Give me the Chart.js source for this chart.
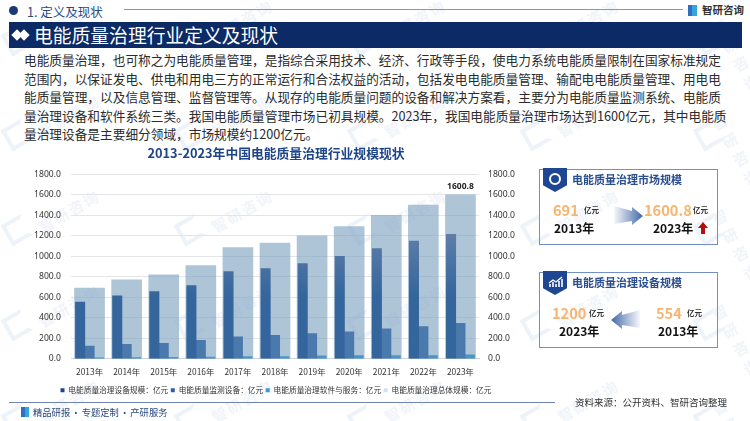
<!DOCTYPE html>
<html lang="zh">
<head>
<meta charset="utf-8">
<script src="https://cdn.jsdelivr.net/npm/chart.js@4/dist/chart.umd.min.js"></script>
<style>
html, body { margin: 0; padding: 0; background: #fff; }
body { width: 750px; height: 421px; position: relative; overflow: hidden; font-family: "Noto Sans CJK SC", "Noto Sans", sans-serif; }
.abs { position: absolute; white-space: nowrap; }
#wm { position: absolute; left: 0; top: 0; width: 750px; height: 421px; }
#wm span { position: absolute; font-size: 15px; font-weight: 700; color: #f1f4f9; transform: rotate(-30deg); letter-spacing: 2px; }
#wm i { position: absolute; width: 16px; height: 16px; border: 4px solid #eef3f9; border-right-color: transparent; transform: rotate(-30deg); }
#chartBox { position: absolute; left: 0; top: 140px; width: 552px; height: 264px; }
.para { left: 24px; font-size: 12.68px; line-height: 18px; color: #2b2b2b; }
.panel { position: absolute; left: 539px; width: 177px; height: 74px; border: 1px solid #7390c4; box-sizing: content-box; }
.badge { position: absolute; left: 543px; width: 24px; height: 24px; background: #1f4690; clip-path: polygon(0 0, 100% 0, 100% 72%, 50% 100%, 0 72%); }
.ptitle { font-size: 11px; font-weight: 700; color: #2a4f8f; }
.num { font-size: 14.6px; font-weight: 700; color: #f7b56f; }
.unit { font-size: 7.5px; font-weight: 700; color: #333; }
.yr { font-size: 12px; font-weight: 700; color: #111; }
</style>
</head>
<body>
<div id="wm"></div>

<div class="abs" style="left:9px;top:6px;width:9px;height:9px;border-radius:50%;background:#183a7a"></div>
<div class="abs" style="left:27px;top:2px;font-size:12.5px;color:#2a4a7f">1. 定义及现状</div>
<div class="abs" style="left:124px;top:9px;width:559px;height:1px;background:#8296bd"></div>
<div class="abs" style="left:688px;top:5px;width:9px;height:11px;background:linear-gradient(90deg,#2f6fc0 50%,#35a6d8 50%)"></div>
<div class="abs" style="left:702px;top:2px;font-size:10.5px;font-weight:700;color:#333">智研咨询</div>
<div class="abs" style="left:9px;top:22px;width:733px;height:26px;background:#0c2a66"></div>
<div class="abs" style="left:13px;top:31px;width:8px;height:8px;background:#fff;transform:rotate(45deg)"></div>
<div class="abs" style="left:20px;top:31px;width:8px;height:8px;background:#fff;transform:rotate(45deg)"></div>
<div class="abs" style="left:34px;top:21px;font-size:18.8px;line-height:27px;color:#fff">电能质量治理行业定义及现状</div>

<div class="abs para" style="top:51px">电能质量治理，也可称之为电能质量管理，是指综合采用技术、经济、行政等手段，使电力系统电能质量限制在国家标准规定</div>
<div class="abs para" style="top:70px">范围内，以保证发电、供电和用电三方的正常运行和合法权益的活动，包括发电电能质量管理、输配电电能质量管理、用电电</div>
<div class="abs para" style="top:88px">能质量管理，以及信息管理、监督管理等。从现存的电能质量问题的设备和解决方案看，主要分为电能质量监测系统、电能质</div>
<div class="abs para" style="top:107px">量治理设备和软件系统三类。我国电能质量管理市场已初具规模。2023年，我国电能质量治理市场达到1600亿元，其中电能质</div>
<div class="abs para" style="top:125px">量治理设备是主要细分领域，市场规模约1200亿元。</div>

<div id="chartBox"><canvas id="chart"></canvas></div>

<div class="panel" style="top:169px"></div>
<div class="badge" style="top:168px"></div>
<div class="abs" style="left:549px;top:173px;width:8px;height:8px;border:2px solid #fff;border-radius:50%"></div>
<div class="abs ptitle" style="left:572px;top:171px">电能质量治理市场规模</div>
<div class="abs num" style="left:553px;top:199px">691</div>
<div class="abs unit" style="left:584px;top:204px">亿元</div>
<div class="abs yr" style="left:554px;top:219px">2013年</div>
<svg class="abs" style="left:614px;top:205px" width="30" height="22" viewBox="0 0 30 22">
  <defs><linearGradient id="g1" x1="0" x2="1" y1="0" y2="0"><stop offset="0" stop-color="#4a6fa8" stop-opacity="0.05"/><stop offset="1" stop-color="#3f66a5"/></linearGradient></defs>
  <path d="M0 1 L18 6 L18 2 L29 11 L18 20 L18 16 L0 19 Z" fill="url(#g1)"/>
</svg>
<div class="abs num" style="left:644px;top:199px">1600.8</div>
<div class="abs unit" style="left:693px;top:204px">亿元</div>
<div class="abs yr" style="left:653px;top:219px">2023年</div>
<svg class="abs" style="left:698px;top:222px" width="10" height="12" viewBox="0 0 10 12"><path d="M5 0 L10 6 L7 6 L7 12 L3 12 L3 6 L0 6 Z" fill="#b30d0d"/></svg>

<div class="panel" style="top:272px"></div>
<div class="badge" style="top:271px"></div>
<svg class="abs" style="left:548px;top:276px" width="15" height="11" viewBox="0 0 15 11"><path d="M1 7 L5 4 L8 6 L14 1" fill="none" stroke="#fff" stroke-width="1.4"/><path d="M2 11V8M5 11V6M8 11V8M11 11V5M14 11V3" stroke="#fff" stroke-width="1.6"/></svg>
<div class="abs ptitle" style="left:572px;top:274px">电能质量治理设备规模</div>
<div class="abs num" style="left:552px;top:302px">1200</div>
<div class="abs unit" style="left:589px;top:307px">亿元</div>
<div class="abs yr" style="left:559px;top:322px">2023年</div>
<svg class="abs" style="left:610px;top:309px" width="30" height="22" viewBox="0 0 30 22">
  <defs><linearGradient id="g2" x1="1" x2="0" y1="0" y2="0"><stop offset="0" stop-color="#4a6fa8" stop-opacity="0.05"/><stop offset="1" stop-color="#3f66a5"/></linearGradient></defs>
  <path d="M30 1 L12 6 L12 2 L1 11 L12 20 L12 16 L30 19 Z" fill="url(#g2)"/>
</svg>
<div class="abs num" style="left:656px;top:302px">554</div>
<div class="abs unit" style="left:687px;top:307px">亿元</div>
<div class="abs yr" style="left:658px;top:322px">2013年</div>

<div class="abs" style="left:9px;top:402px;width:546px;height:1px;background:#6f84b4"></div>
<div class="abs" style="left:575px;top:395px;font-size:9.5px;color:#333">资料来源：公开资料、智研咨询整理</div>
<div class="abs" style="left:21px;top:407px;width:8px;height:10px;background:linear-gradient(90deg,#2f6fc0 50%,#35a6d8 50%)"></div>
<div class="abs" style="left:33px;top:405px;font-size:9.3px;word-spacing:-1px;color:#2a4a7f">精品研报 · 专题定制 · 产研服务</div>

<script>
const years = ['2013年','2014年','2015年','2016年','2017年','2018年','2019年','2020年','2021年','2022年','2023年'];
const deviceValues = [554, 615, 655, 715, 850, 880, 930, 1000, 1075, 1150, 1215];
const monitorValues = [125, 140, 152, 180, 215, 228, 245, 262, 292, 315, 345];
const softwareValues = [10, 12, 15, 18, 22, 22, 28, 32, 32, 32, 38];
const totalValues = [691, 770, 820, 910, 1085, 1130, 1200, 1290, 1400, 1500, 1600.8];
const seriesNames = ['电能质量治理设备规模：亿元', '电能质量监测设备：亿元', '电能质量治理软件与服务：亿元', '电能质量治理总体规模：亿元'];
const legendColors = ['#1d4489', '#2d5fa8', '#3f97d0', '#cfe3f2'];

// watermark tiles
const wm = document.getElementById('wm');
for (let r = 0; r < 5; r++) {
  for (let c = 0; c < 5; c++) {
    const s = document.createElement('span');
    s.textContent = '智研咨询';
    s.style.left = (35 + c * 173) + 'px';
    s.style.top = (10 + r * 95) + 'px';
    wm.appendChild(s);
    const m = document.createElement('i');
    m.style.left = (5 + c * 173) + 'px';
    m.style.top = (28 + r * 95) + 'px';
    wm.appendChild(m);
  }
}

function grad(context, top, bottom) {
  const area = context.chart.chartArea;
  if (!area) return bottom;
  const y0 = context.chart.scales.y.getPixelForValue(1215);
  const g = context.chart.ctx.createLinearGradient(0, y0, 0, area.bottom);
  g.addColorStop(0, top);
  g.addColorStop(0.5, bottom);
  g.addColorStop(1, bottom);
  return g;
}

// value label above the last total bar
const lastLabel = {
  id: 'lastLabel',
  afterDatasetsDraw(chart) {
    const i = totalValues.length - 1;
    const bar = chart.getDatasetMeta(3).data[i];
    const c = chart.ctx;
    c.save();
    c.font = 'bold 8.5px "Noto Sans", sans-serif';
    c.fillStyle = '#222';
    c.textAlign = 'center';
    c.textBaseline = 'bottom';
    c.fillText(totalValues[i].toFixed(1), bar.x, bar.y - 4);
    c.restore();
  }
};

const tickFmt = v => Number(v).toFixed(1);

new Chart(document.getElementById('chart'), {
  type: 'bar',
  data: {
    labels: years,
    datasets: [
      { label: seriesNames[0], data: deviceValues, order: 1, barThickness: 9.4,
        backgroundColor: c => grad(c, '#5f7ea8', '#34659c') },
      { label: seriesNames[1], data: monitorValues, order: 1, barThickness: 9.4,
        backgroundColor: c => grad(c, '#5f86b6', '#4a79ad') },
      { label: seriesNames[2], data: softwareValues, order: 1, barThickness: 9.4,
        backgroundColor: '#4c95c8' },
      // total sits behind the three thin bars, centred on the category
      { label: seriesNames[3], data: totalValues, order: 2, grouped: false, barThickness: 30,
        backgroundColor: 'rgba(125,162,192,0.62)' }
    ]
  },
  options: {
    responsive: true,
    maintainAspectRatio: false,
    animation: false,
    layout: { padding: { left: 0, right: 0, top: 2, bottom: 0 } },
    plugins: {
      title: {
        display: true,
        text: '2013-2023年中国电能质量治理行业规模现状',
        color: '#1d4489',
        font: { size: 12.8, weight: 'bold', family: '"Noto Sans CJK SC"' },
        padding: { top: 3, bottom: 14 }
      },
      legend: {
        position: 'bottom',
        labels: {
          boxWidth: 4,
          boxHeight: 4,
          padding: 2.5,
          color: '#333',
          font: { size: 7.7, family: '"Noto Sans CJK SC"' },
          generateLabels: () => seriesNames.map((t, i) => ({
            text: t, fillStyle: legendColors[i], strokeStyle: legendColors[i], lineWidth: 0, datasetIndex: i, fontColor: '#333'
          }))
        }
      },
      tooltip: { enabled: false }
    },
    scales: {
      x: {
        afterFit: s => { s.height = 25; },
        grid: { display: false, drawTicks: false },
        border: { color: '#cfd3d8' },
        ticks: { color: '#333', font: { size: 8.4, family: '"Noto Sans CJK SC"' }, padding: 8 }
      },
      y: {
        position: 'left',
        min: 0,
        max: 1800,
        afterFit: s => { s.width = 71; },
        ticks: { stepSize: 200, callback: tickFmt, color: '#333', padding: 10, font: { size: 8.6, family: '"Noto Sans"' } },
        grid: { color: '#e3e5e8', lineWidth: 1, drawTicks: false },
        border: { display: false }
      },
      y2: {
        position: 'right',
        min: 0,
        max: 1800,
        afterFit: s => { s.width = 73; },
        ticks: { stepSize: 200, callback: tickFmt, color: '#333', padding: 9, font: { size: 8.6, family: '"Noto Sans"' } },
        grid: { display: false, drawTicks: false },
        border: { display: false }
      }
    }
  },
  plugins: [lastLabel]
});
</script>
</body>
</html>
